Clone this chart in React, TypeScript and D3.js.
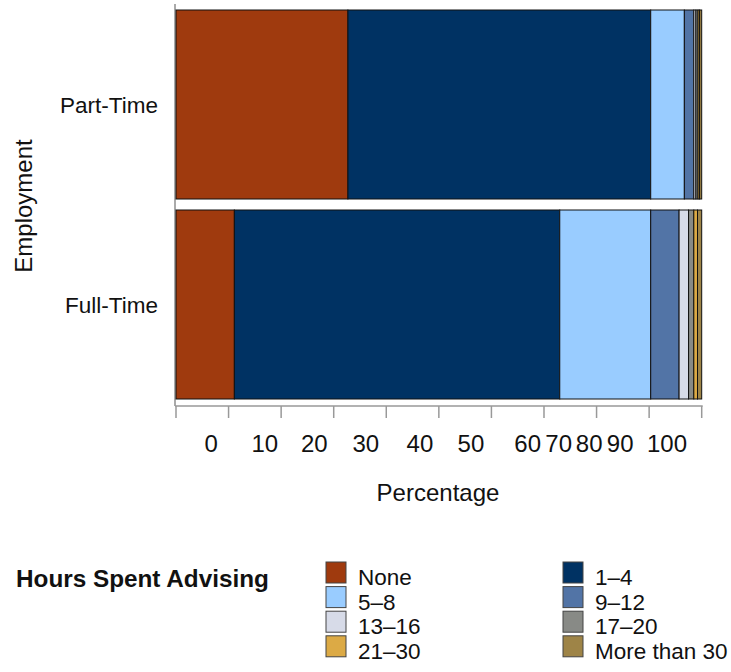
import React from "react";
import * as d3 from "d3";

const categories = ["Part-Time", "Full-Time"];
const seriesNames = ["None", "1–4", "5–8", "9–12", "13–16", "17–20", "21–30", "More than 30"];
const seriesColors = ["#9f3a0e", "#003263", "#99ccff", "#5274a6", "#d7dbe8", "#888a86", "#dcaa45", "#9e8447"];
const partTime = [32.7, 57.6, 6.4, 1.8, 0.4, 0.4, 0.3, 0.4];
const fullTime = [11.1, 61.9, 17.3, 5.4, 1.8, 1.0, 0.7, 0.8];
const tickValues = [0, 10, 20, 30, 40, 50, 60, 70, 80, 90, 100];
const tickLabels = ["0", "10", "20", "30", "40", "50", "60", "70", "80", "90", "100"];
const tickLabelAt = [6.7, 16.9, 26.3, 36.1, 46.4, 56.1, 66.9, 72.8, 78.6, 84.5, 93.4];

const FONT = "'Liberation Sans', Arial, Helvetica, sans-serif";

export default function App() {
  const W = 731, H = 672;
  const x = d3.scaleLinear().domain([0, 100]).range([176, 701.7]);
  const y = d3.scaleBand().domain(categories).range([10, 399]).paddingInner(0.055);
  const values: Record<string, number[]> = { "Part-Time": partTime, "Full-Time": fullTime };
  const axisY = 406;

  return (
    <svg width={W} height={H} style={{ position: "absolute", left: 0, top: 0, background: "#fff" }} fontFamily={FONT}>
      <line x1={175} x2={175} y1={4} y2={axisY} stroke="#aaa" strokeWidth={2} />
      {categories.map((c) => {
        const vals = values[c];
        let acc = 0;
        return (
          <g key={c}>
            {vals.map((v, i) => {
              const x0 = x(acc);
              acc += v;
              const x1 = x(acc);
              return (
                <rect key={i} x={x0} y={y(c)!} width={Math.max(0, x1 - x0)} height={y.bandwidth()}
                  fill={seriesColors[i]} stroke="#111" strokeWidth={1} />
              );
            })}
            <text x={158} y={y(c)! + y.bandwidth() / 2 + 8} textAnchor="end" fontSize={22.5} fill="#111">{c}</text>
          </g>
        );
      })}
      <line x1={x(0) - 1} x2={x(100) + 1} y1={axisY} y2={axisY} stroke="#999" strokeWidth={1.5} />
      {tickValues.map((t) => (
        <line key={t} x1={x(t)} x2={x(t)} y1={axisY} y2={418} stroke="#999" strokeWidth={1.5} />
      ))}
      {tickLabels.map((l, i) => (
        <text key={l} x={x(tickLabelAt[i])} y={452} textAnchor="middle" fontSize={24} fill="#111">{l}</text>
      ))}
      <text x={438} y={501} textAnchor="middle" fontSize={24} fill="#111">Percentage</text>
      <text transform={`translate(32,206) rotate(-90)`} textAnchor="middle" fontSize={24} fill="#111">Employment</text>

      <text x={16} y={587} fontSize={24.3} fontWeight="bold" fill="#111">Hours Spent Advising</text>
      {seriesNames.map((n, i) => {
        const col = i % 2;
        const row = Math.floor(i / 2);
        const lx = col === 0 ? 326 : 563;
        const ly = 562 + row * 24.6;
        return (
          <g key={n}>
            <rect x={lx} y={ly} width={20} height={21} fill={seriesColors[i]} stroke="#444" strokeWidth={1} />
            <text x={lx + 32} y={ly + 23} fontSize={22.5} fill="#111">{n}</text>
          </g>
        );
      })}
    </svg>
  );
}
